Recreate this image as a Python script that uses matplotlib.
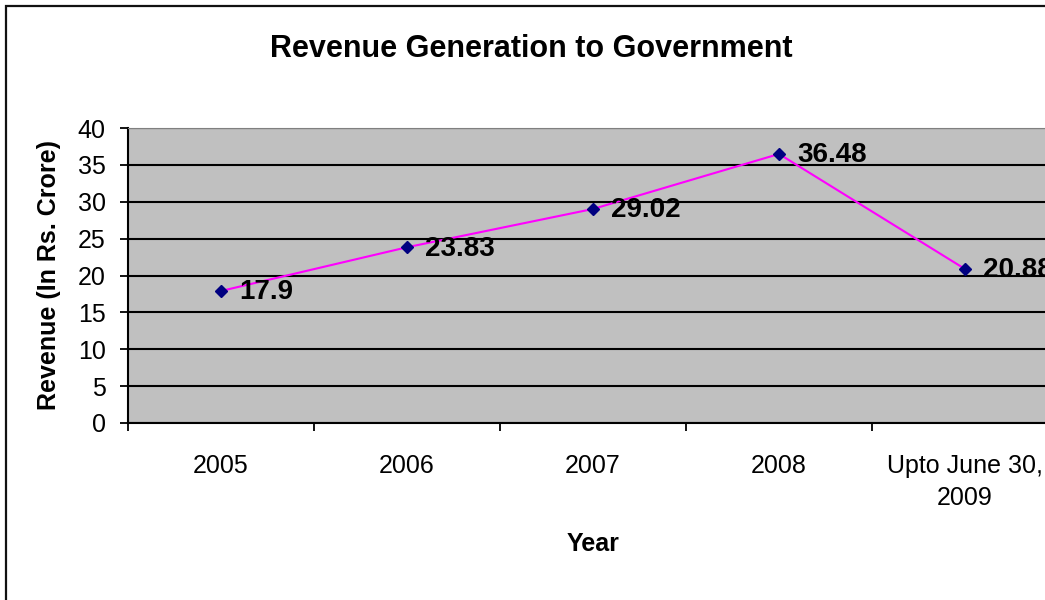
import matplotlib
matplotlib.use("Agg")
import matplotlib.pyplot as plt
from matplotlib.patches import Rectangle

categories = ["2005", "2006", "2007", "2008", "Upto June 30,\n2009"]
revenue = [17.9, 23.83, 29.02, 36.48, 20.88]
value_labels = ["17.9", "23.83", "29.02", "36.48", "20.88"]
y_ticks = [0, 5, 10, 15, 20, 25, 30, 35, 40]

plt.rcParams["font.family"] = ["Liberation Sans", "DejaVu Sans"]

W, H = 1045, 600
fig = plt.figure(figsize=(W / 100, H / 100), dpi=100)

# outer chart frame (runs off the right and bottom edges)
fig.patches.append(Rectangle((6 / W, -0.1), 1.2, 1 - 6 / H + 0.1,
                             transform=fig.transFigure, fill=False,
                             edgecolor="#111111", linewidth=1.6))

left, right, top, bottom = 128, 1058, 128, 423
ax = fig.add_axes([left / W, 1 - bottom / H, (right - left) / W, (bottom - top) / H])
ax.set_facecolor("#c0c0c0")

x = list(range(len(categories)))
ax.plot(x, revenue, color="#ff00ff", linewidth=1.5, marker="D",
        markersize=6, markerfacecolor="#000080", markeredgecolor="#000080",
        zorder=3, clip_on=False)

for xi, yi, lab in zip(x, revenue, value_labels):
    ax.annotate(lab, (xi, yi), xytext=(13, -1), textcoords="offset points",
                ha="left", va="center", fontsize=20, fontweight="bold",
                annotation_clip=False, zorder=4)

ax.set_xlim(-0.5, len(categories) - 0.5)
ax.set_ylim(0, 40)
ax.set_yticks(y_ticks)
ax.yaxis.grid(True, color="black", linewidth=1.5)
ax.set_axisbelow(True)

ax.set_xticks([i - 0.5 for i in range(len(categories))])
ax.set_xticklabels([])
ax.set_xticks(x, minor=True)
ax.set_xticklabels(categories, minor=True, linespacing=1.45)
ax.tick_params(axis="x", which="major", direction="out", length=6, width=1.3)
ax.tick_params(axis="x", which="minor", length=0, pad=22, labelsize=18)
ax.tick_params(axis="y", direction="out", length=6, width=1.3, pad=10, labelsize=18)

ax.spines["top"].set_color("#808080")
ax.spines["right"].set_visible(False)
for s in ("left", "bottom"):
    ax.spines[s].set_linewidth(1.5)

ax.set_xlabel("Year", fontsize=18, fontweight="bold", labelpad=16)
ax.set_ylabel("Revenue (In Rs. Crore)", fontsize=18, fontweight="bold", labelpad=12)

fig.text(531 / W, 1 - 49 / H, "Revenue Generation to Government",
         ha="center", va="center", fontsize=22, fontweight="bold")

fig.savefig("out.png", dpi=100)
